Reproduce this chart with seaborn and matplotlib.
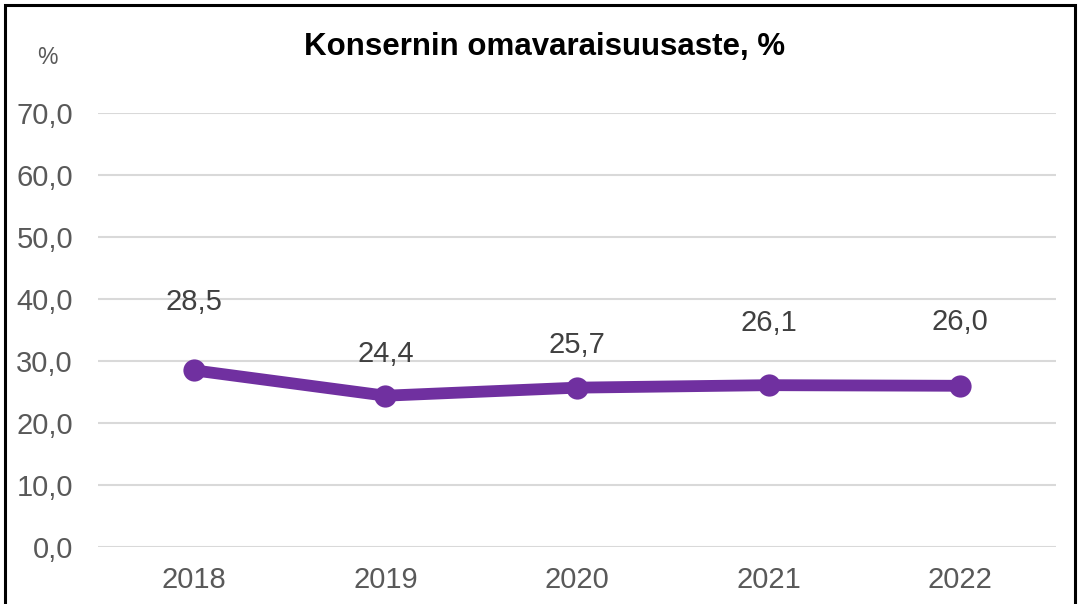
import matplotlib
matplotlib.use("Agg")
import matplotlib.pyplot as plt
import seaborn as sns
import pandas as pd
from matplotlib.patches import Rectangle

years = ["2018", "2019", "2020", "2021", "2022"]
values = [28.5, 24.4, 25.7, 26.1, 26.0]
label_texts = ["28,5", "24,4", "25,7", "26,1", "26,0"]
y_ticks = [0, 10, 20, 30, 40, 50, 60, 70]

# label offsets above each point (points), as placed in the original
label_offsets = [49, 30, 31, 45, 46]

LINE_COLOR = "#7030A0"
TEXT_COLOR = "#595959"
GRID_COLOR = "#D9D9D9"

sns.set_theme(style="white")
plt.rcParams["font.family"] = ["Liberation Sans", "DejaVu Sans"]

df = pd.DataFrame({"year": years, "value": values})

fig = plt.figure(figsize=(10.79, 6.04), dpi=100)
ax = fig.add_axes([0.0908, 0.0944, 0.8879, 0.7185])

sns.lineplot(data=df, x="year", y="value", color=LINE_COLOR, linewidth=8.5,
             marker="o", markersize=16, markeredgewidth=0, ax=ax, zorder=3)

for i, (v, txt, off) in enumerate(zip(values, label_texts, label_offsets)):
    ax.annotate(txt, (i, v), xytext=(0, off), textcoords="offset points",
                ha="center", va="center", fontsize=21, color="#404040")

ax.set_xlim(-0.5, len(years) - 0.5)
ax.set_ylim(0, 70)
ax.set_yticks(y_ticks)
ax.set_yticklabels([f"{t:.1f}".replace(".", ",") for t in y_ticks])
ax.yaxis.grid(True, color=GRID_COLOR, linewidth=1.5)
ax.set_axisbelow(True)
for s in ax.spines.values():
    s.set_visible(False)
ax.tick_params(axis="both", length=0, labelsize=21, labelcolor=TEXT_COLOR)
ax.tick_params(axis="y", pad=18)
ax.tick_params(axis="x", pad=14)
ax.set_xlabel("")
ax.set_ylabel("")

fig.text(0.5045, 0.922, "Konsernin omavaraisuusaste, %", ha="center", va="center",
         fontsize=22.5, fontweight="bold", color="black")
fig.text(0.0435, 0.905, "%", ha="center", va="center", fontsize=16.5, color=TEXT_COLOR)

fig.patches.append(Rectangle((0.0046, -0.05), 0.9917, 1.042, transform=fig.transFigure,
                             fill=False, edgecolor="black", linewidth=2.2))

fig.savefig("out.png", dpi=100)
